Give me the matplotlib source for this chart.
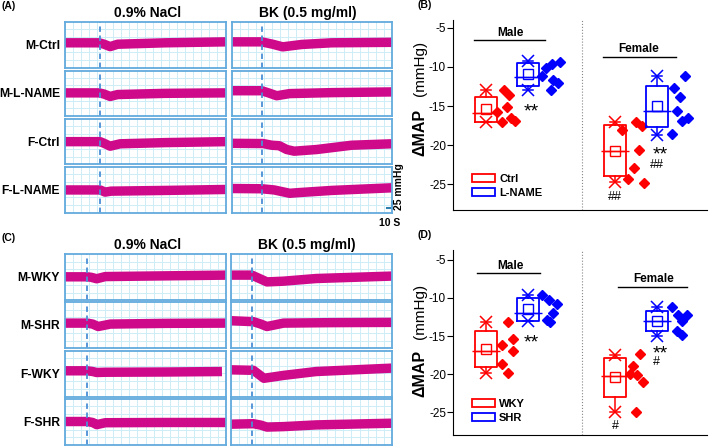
import numpy as np
import matplotlib
matplotlib.use("Agg")
import matplotlib.pyplot as plt
from matplotlib.patches import Rectangle

plt.rcParams['font.family'] = ['Liberation Sans', 'DejaVu Sans']

# ---------------- data: pressure traces (time s, MAP level mmHg) ----------------
row_labels_a = ["M-Ctrl", "M-L-NAME", "F-Ctrl", "F-L-NAME"]
row_labels_c = ["M-WKY", "M-SHR", "F-WKY", "F-SHR"]
col_titles = ["0.9% NaCl", "BK (0.5 mg/ml)"]

a_nacl_t = [[0, 68, 78, 90, 105, 200, 320],
            [0, 68, 78, 90, 105, 200, 320],
            [0, 70, 78, 90, 110, 200, 320],
            [0, 70, 80, 92, 200, 320]]
a_nacl_y = [[104, 104, 98, 88, 98, 104, 108],
            [97, 97, 92, 82, 90, 95, 97],
            [95, 95, 88, 76, 86, 91, 95],
            [95, 95, 86, 90, 93, 97]]
a_bk_t = [[0, 60, 82, 102, 140, 200, 320],
          [0, 60, 75, 90, 116, 200, 320],
          [0, 63, 80, 95, 110, 125, 170, 240, 320],
          [0, 60, 85, 116, 135, 200, 320]]
a_bk_y = [[108, 108, 98, 87, 97, 104, 106],
          [106, 106, 96, 85, 94, 98, 101],
          [88, 87, 80, 78, 62, 55, 62, 80, 86],
          [101, 100, 95, 81, 84, 93, 104]]

c_nacl_t = [[0, 44, 52, 63, 80, 200, 320],
            [0, 44, 55, 66, 90, 200, 320],
            [0, 44, 55, 63, 80, 200, 312],
            [0, 44, 55, 63, 80, 200, 320]]
c_nacl_y = [[97, 97, 95, 89, 98, 101, 104],
            [104, 104, 100, 90, 100, 103, 104],
            [107, 107, 104, 100, 101, 102, 104],
            [97, 97, 93, 84, 92, 93, 93]]
c_bk_t = [[0, 42, 55, 72, 105, 170, 320],
          [0, 45, 60, 72, 105, 200, 320],
          [0, 45, 56, 66, 105, 170, 320],
          [0, 45, 60, 72, 105, 170, 320]]
c_bk_y = [[104, 104, 92, 76, 79, 90, 100],
          [114, 110, 100, 90, 104, 106, 107],
          [111, 109, 92, 76, 88, 104, 118],
          [86, 88, 82, 74, 76, 83, 90]]

inject_a = [70, 60]
inject_c = [44, 42]

# ---------------- data: delta MAP (mmHg) ----------------
b_groups = ["Ctrl", "L-NAME"]
b_male_ctrl = [-12.9, -13.6, -15.1, -15.8, -16.5, -16.9, -17.1]
b_male_lname = [-9.4, -9.6, -10.2, -11.2, -11.65, -12.1, -13.0]
b_fem_ctrl = [-17.05, -17.6, -18.1, -20.65, -22.95, -24.3, -24.8]
b_fem_lname = [-11.2, -12.7, -13.9, -15.7, -16.5, -16.9, -18.6]
# box stats: q1, median, q3, low, high, mean
b_box = [[-17.1, -15.9, -13.9, -17.0, -12.9, -15.4],
         [-12.45, -11.3, -9.5, -12.9, -9.2, -10.9],
         [-24.0, -20.7, -17.45, -24.75, -17.05, -20.8],
         [-17.7, -15.7, -12.5, -18.65, -11.2, -15.05]]

d_groups = ["WKY", "SHR"]
d_male_wky = [-13.2, -16.2, -15.4, -17.0, -18.7, -19.8]
d_male_shr = [-9.6, -10.3, -10.8, -12.0, -12.9, -13.2]
d_fem_wky = [-17.4, -18.9, -20.0, -20.1, -21.0, -25.0]
d_fem_shr = [-11.2, -12.2, -12.2, -13.0, -14.3, -14.9]
d_box = [[-19.1, -17.0, -14.35, -19.8, -13.2, -16.7],
         [-13.0, -12.0, -10.0, -13.0, -9.6, -11.45],
         [-23.0, -20.2, -17.9, -25.0, -17.45, -20.4],
         [-14.4, -13.0, -11.7, -15.0, -11.2, -13.0]]

# significance marks (label, group index, y)
b_marks = [("**", 1, -15.1), ("##", 2, -26.6), ("**", 3, -20.65), ("##", 3, -22.5)]
d_marks = [("**", 1, -15.2), ("#", 2, -26.8), ("**", 3, -16.7), ("#", 3, -18.4)]

# ---------------- layout / style ----------------
W, H = 709, 446
fig = plt.figure(figsize=(W / 100, H / 100), dpi=100)

trace_color = "#cf0a8a"
frame_color = "#62aade"
grid_minor = "#cdedf6"
dash_color = "#4a8fd6"
group_x = [1.0, 2.27, 4.91, 6.18]
jitter_b = [[0.55, 0.70, 0.64, 0.33, 0.76, 0.88, 0.48],
            [0.97, 0.72, 0.55, 0.42, 0.75, 0.92, 0.69],
            [0.64, 0.81, 0.20, 0.74, 0.58, 0.40, 0.88],
            [0.85, 0.52, 0.70, 0.62, 0.93, 0.75, 0.45]]
jitter_d = [[0.66, 0.50, 0.83, 0.83, 0.50, 0.66],
            [0.43, 0.65, 0.87, 0.75, 0.57, 0.67],
            [0.76, 0.55, 0.45, 0.68, 0.86, 0.64],
            [0.45, 0.63, 0.92, 0.76, 0.61, 0.76]]


def px_axes(x0, y0, w, h):
    return fig.add_axes([x0 / W, 1 - (y0 + h) / H, w / W, h / H])


def trace_axes(x0, y0, w, h, t, y, t_inj):
    ax = px_axes(x0, y0, w, h)
    ax.set_xlim(0, 320)
    ax.set_ylim(0, 190)
    ax.set_xticks(np.arange(0, 321, 16))
    ax.set_yticks(np.arange(0, 191, 32))
    ax.grid(True, color=grid_minor, lw=0.7)
    ax.set_axisbelow(True)
    ax.tick_params(length=0, labelbottom=False, labelleft=False)
    for s in ax.spines.values():
        s.set_color(frame_color)
        s.set_linewidth(1.3)
    ax.plot(t, y, color=trace_color, lw=6.8, solid_capstyle="butt",
            solid_joinstyle="round")
    ax.axvline(t_inj, color=dash_color, lw=1.3, ls=(0, (3, 2)))
    return ax


def trace_panel(top, rows_top, h, col_x, col_w, nacl_t, nacl_y, bk_t, bk_y,
                inject, labels, tag):
    axes = []
    for i in range(4):
        y0 = rows_top[i]
        trace_axes(col_x[0], y0, col_w[0], h, nacl_t[i], nacl_y[i], inject[0])
        axes.append(trace_axes(col_x[1], y0, col_w[1], h, bk_t[i], bk_y[i],
                               inject[1]))
        fig.text(60 / W, 1 - (y0 + h / 2 + 1) / H, labels[i], ha="right",
                 va="center", fontsize=8.7, fontweight="bold")
    fig.text((col_x[0] + col_w[0] / 2 + 2) / W, 1 - top / H, col_titles[0],
             ha="center", va="center", fontsize=10, fontweight="bold")
    fig.text((col_x[1] + col_w[1] / 2 - 4) / W, 1 - top / H, col_titles[1],
             ha="center", va="center", fontsize=10, fontweight="bold")
    fig.text(1 / W, 1 - (top - 7) / H, tag, ha="left", va="center",
             fontsize=7.5, fontweight="bold")
    return axes


axes_a = trace_panel(13, [22.3, 70.7, 119, 167.3], 45.3, [65, 231.7],
                     [160.5, 160], a_nacl_t, a_nacl_y, a_bk_t, a_bk_y,
                     inject_a, row_labels_a, "(A)")
trace_panel(245, [254.3, 302.3, 350.7, 399], 46, [65, 230.7], [161, 161],
            c_nacl_t, c_nacl_y, c_bk_t, c_bk_y, inject_c, row_labels_c, "(C)")

# scale bar on the last trace of panel A
sb = axes_a[-1]
bar_color = "#2f7fae"
sb.plot([311, 321], [18, 18], color=bar_color, lw=1.5, clip_on=False)
sb.plot([321, 321], [18, 43], color=bar_color, lw=1.5, clip_on=False)
sb.text(334, 12, "25 mmHg", rotation=90, ha="center", va="bottom",
        fontsize=7.5, fontweight="bold", clip_on=False)
sb.text(316, -44, "10 S", ha="center", va="center", fontsize=7.5,
        fontweight="bold", clip_on=False)


def dmap_panel(y0, h, ylim, data, boxes, jit, names, marks, male_line,
               fem_line, label_pos, tag):
    ax = px_axes(453, y0, 254, h)
    colors = ["#ff0000", "#0000ff", "#ff0000", "#0000ff"]
    for k in range(4):
        q1, med, q3, lo, hi, mean = boxes[k]
        st = [dict(q1=q1, med=med, q3=q3, whislo=lo, whishi=hi, mean=mean,
                   fliers=[])]
        c = colors[k]
        ax.bxp(st, positions=[group_x[k]], widths=0.66, showmeans=True,
               showfliers=False, manage_ticks=False, capwidths=0.3,
               boxprops=dict(color=c, lw=1.3),
               whiskerprops=dict(color=c, lw=1.1),
               capprops=dict(color=c, lw=1.1),
               medianprops=dict(color=c, lw=1.0),
               meanprops=dict(marker="s", markerfacecolor="none",
                              markeredgecolor=c, markersize=7,
                              markeredgewidth=1.0))
        ax.hlines(med, group_x[k] - 0.42, group_x[k] + 0.42, color=c, lw=1.0)
        ax.plot([group_x[k]] * 2, [lo, hi], ls="none", marker="x", color=c,
                markersize=9, markeredgewidth=1.1)
        xs = group_x[k] + np.array(jit[k])
        ax.plot(xs, data[k], ls="none", marker="D", color=c, markersize=5.5)
    for label, k, yv in marks:
        if label == "**":
            ax.text(group_x[k] + 0.1, yv - 1.25, label, ha="center",
                    va="baseline", fontsize=14)
        else:
            ax.text(group_x[k], yv, label, ha="center", va="center",
                    fontsize=9)
    ax.axvline(3.91, color="#888888", lw=0.8, ls=":")
    ax.plot(male_line[0:2], [male_line[2]] * 2, color="k", lw=1.0)
    ax.text(1.73, male_line[2] + 0.95, "Male", ha="center", va="center",
            fontsize=8.5, fontweight="bold")
    ax.plot(fem_line[0:2], [fem_line[2]] * 2, color="k", lw=1.0)
    ax.text(fem_line[3], fem_line[2] + 1.0, "Female", ha="center",
            va="center", fontsize=8.5, fontweight="bold")
    ax.set_xlim(0, 7.7)
    ax.set_ylim(*ylim)
    ax.set_yticks([-25, -20, -15, -10, -5])
    ax.set_yticklabels(["-25", "-20", "-15", "-10", "-5"])
    ax.set_xticks([])
    ax.tick_params(axis="y", direction="out", length=4, pad=1, labelsize=8.5)
    ax.spines["top"].set_visible(False)
    ax.spines["right"].set_visible(False)
    ax.text(-0.13, label_pos[0], "ΔMAP", rotation=90, ha="center",
            va="center", fontsize=11.5, fontweight="bold",
            transform=ax.transAxes)
    ax.text(-0.13, label_pos[1], "(mmHg)", rotation=90, ha="center",
            va="center", fontsize=11, transform=ax.transAxes)
    handles = [Rectangle((0, 0), 1, 1, facecolor="none", edgecolor="#ff0000",
                         lw=1.3),
               Rectangle((0, 0), 1, 1, facecolor="none", edgecolor="#0000ff",
                         lw=1.3)]
    ax.legend(handles, names, loc="lower left",
              bbox_to_anchor=(0.05, 0.03), frameon=False,
              handlelength=2.0, handleheight=0.8, handletextpad=0.4,
              labelspacing=0.35, borderaxespad=0.2,
              prop=dict(size=8, weight="bold"))
    fig.text(418 / W, 1 - (y0 - 15) / H, tag, ha="left", va="center",
             fontsize=7.5, fontweight="bold")
    return ax


dmap_panel(20, 190, (-28.3, -4.0),
           [b_male_ctrl, b_male_lname, b_fem_ctrl, b_fem_lname], b_box,
           jitter_b, b_groups, b_marks, [0.64, 2.79, -6.57],
           [4.55, 6.76, -8.7, 5.64], [0.41, 0.745], "(B)")
dmap_panel(250, 185, (-28.0, -3.7),
           [d_male_wky, d_male_shr, d_fem_wky, d_fem_shr], d_box,
           jitter_d, d_groups, d_marks, [0.73, 2.64, -6.75],
           [5.0, 7.09, -8.5, 6.09], [0.335, 0.67], "(D)")

fig.savefig("out.png", dpi=100)
